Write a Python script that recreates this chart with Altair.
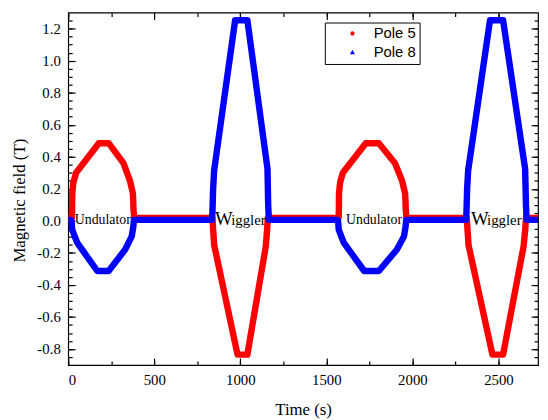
import altair as alt
import pandas as pd

# ---------------- data ----------------
series_names = ["Pole 5", "Pole 8"]
series_colors = ["#ff0000", "#0000ff"]
# legend glyphs (unit-square SVG paths, nudged right inside the legend entry)
series_shapes = ["M 9 0 A 1 1 0 1 1 7 0 A 1 1 0 1 1 9 0 Z",
                 "M 8 -1.1 L 9.2 1 L 6.8 1 Z"]

time_pole5 = [0, 21, 22.5, 23.5, 30, 46, 178, 235, 321, 359, 376, 380, 384,
              838, 842, 848, 984, 1041, 1148, 1156, 1160,
              1571, 1572.5, 1573.5, 1580, 1596, 1729, 1805, 1899, 1940, 1958, 1962, 1966,
              2316, 2320, 2326, 2465, 2527, 2646, 2656, 2660,
              2740]
field_pole5 = [0.018, 0.018, 0.06, 0.17, 0.24, 0.30, 0.485, 0.485, 0.36, 0.25, 0.17, 0.06, 0.018,
               0.018, -0.05, -0.15, -0.835, -0.835, -0.16, -0.05, 0.018,
               0.018, 0.06, 0.17, 0.24, 0.30, 0.485, 0.485, 0.36, 0.25, 0.17, 0.06, 0.018,
               0.018, -0.05, -0.15, -0.835, -0.835, -0.16, -0.05, 0.018,
               0.018]

time_pole8 = [0, 17, 20, 23, 34, 52, 169, 235, 331, 369, 378, 382,
              835, 838, 842, 848, 970, 1041, 1158, 1162, 1166,
              1566, 1569, 1572, 1583, 1601, 1720, 1805, 1910, 1951, 1960, 1964,
              2311, 2314, 2318, 2324, 2451, 2527, 2655, 2660, 2664,
              2740]
field_pole8 = [0.006, 0.006, -0.01, -0.055, -0.086, -0.136, -0.313, -0.313, -0.179, -0.097, -0.04, 0.006,
               0.006, 0.05, 0.2, 0.315, 1.253, 1.253, 0.325, 0.1, 0.006,
               0.006, -0.01, -0.055, -0.086, -0.136, -0.313, -0.313, -0.179, -0.097, -0.04, 0.006,
               0.006, 0.05, 0.2, 0.315, 1.253, 1.253, 0.325, 0.1, 0.006,
               0.006]

und_text = ["Undulator", "Undulator"]
und_time = [201, 1777]
und_field = [-0.0185, -0.0185]

w_text = ["W", "W"]
w_time = [905, 2392]
w_field = [-0.028, -0.028]

ig_text = ["iggler", "iggler"]
ig_time = [947, 2434]
ig_field = [-0.028, -0.028]

x_major = [0, 500, 1000, 1500, 2000, 2500]
x_minor = [0, 250, 500, 750, 1000, 1250, 1500, 1750, 2000, 2250, 2500]
y_major = [-0.8, -0.6, -0.4, -0.2, 0.0, 0.2, 0.4, 0.6, 0.8, 1.0, 1.2]
y_minor = [round(-0.85 + 0.05 * i, 2) for i in range(43)]

X_DOMAIN = [0, 2730]
Y_DOMAIN = [-0.9, 1.3]

# ---------------- tables ----------------
df = pd.concat([
    pd.DataFrame({"t": time_pole5, "b": field_pole5, "series": series_names[0]}),
    pd.DataFrame({"t": time_pole8, "b": field_pole8, "series": series_names[1]}),
], ignore_index=True)
df["idx"] = range(len(df))

und_df = pd.DataFrame({"t": und_time, "b": und_field, "txt": und_text})
w_df = pd.DataFrame({"t": w_time, "b": w_field, "txt": w_text})
ig_df = pd.DataFrame({"t": ig_time, "b": ig_field, "txt": ig_text})

SERIF = "Liberation Serif"
SANS = "Liberation Sans"

xs = alt.Scale(domain=X_DOMAIN, nice=False, zero=False)
ys = alt.Scale(domain=Y_DOMAIN, nice=False, zero=False)
cs = alt.Scale(domain=series_names, range=series_colors)
ss = alt.Scale(domain=series_names, range=series_shapes)


def axis(orient, values, size, **kw):
    base = dict(orient=orient, values=values, tickSize={"expr": str(-size)},
                domain=False, grid=False, tickColor="black", tickWidth=1.2,
                labels=False, title="")
    base.update(kw)
    return alt.Axis(**base)


x_bottom = axis("bottom", x_major, 7, labels=True, format="d",
                labelFont=SERIF, labelFontSize=15, labelColor="black", labelPadding=15,
                title="Time (s)", titleFont=SERIF, titleFontSize=17, titleFontWeight="normal",
                titleColor="black", titleY=50, titleBaseline="alphabetic")
y_left = axis("left", y_major, 7, labels=True,
              labelExpr="replace(format(datum.value, '.1f'), '\u2212', '-')",
              labelFont=SERIF, labelFontSize=15, labelColor="black", labelPadding=15,
              title="Magnetic field (T)", titleFont=SERIF, titleFontSize=17,
              titleFontWeight="normal", titleColor="black", titleX=-44, titleY=190,
              titleAngle=270, titleBaseline="alphabetic", titleAlign="center")

legend = alt.Legend(orient="none", legendX=260, legendY=10, title=None,
                    strokeColor="black", fillColor="white", padding=3.5,
                    labelFont=SANS, labelFontSize=15, labelColor="black",
                    symbolSize=18, labelOffset=31, rowPadding=3,
                    symbolStrokeWidth=0)

# legend only: the scale domains drive the entries
points = alt.Chart(df).mark_point(filled=True, size=18, opacity=1).encode(
    x=alt.X("t:Q", scale=xs, axis=axis("top", x_major, 7)),
    y=alt.Y("b:Q", scale=ys, axis=axis("right", y_major, 7)),
    color=alt.Color("series:N", scale=cs, legend=legend),
    shape=alt.Shape("series:N", scale=ss, legend=legend),
).transform_filter("datum.t < -1")

lines = alt.Chart(df).mark_line(strokeWidth=6.5, strokeJoin="round", clip=True).encode(
    x=alt.X("t:Q", scale=xs, axis=x_bottom),
    y=alt.Y("b:Q", scale=ys, axis=y_left),
    color=alt.Color("series:N", scale=cs, legend=None),
    order="idx:Q",
)

und = alt.Chart(und_df).mark_text(font=SERIF, fontSize=14, color="black",
                                  align="center", baseline="alphabetic").encode(
    x=alt.X("t:Q", scale=xs, axis=axis("bottom", x_minor, 4)),
    y=alt.Y("b:Q", scale=ys, axis=axis("left", y_minor, 4)),
    text="txt:N",
)

wl = alt.Chart(w_df).mark_text(font=SERIF, fontSize=19, color="black",
                               align="center", baseline="alphabetic").encode(
    x=alt.X("t:Q", scale=xs, axis=axis("top", x_minor, 4)),
    y=alt.Y("b:Q", scale=ys, axis=axis("right", y_minor, 4)),
    text="txt:N",
)

ig = alt.Chart(ig_df).mark_text(font=SERIF, fontSize=15, color="black",
                                align="left", baseline="alphabetic").encode(
    x=alt.X("t:Q", scale=xs, axis=None),
    y=alt.Y("b:Q", scale=ys, axis=None),
    text="txt:N",
)

chart = alt.layer(points, lines, und, wl, ig).resolve_axis(
    x="independent", y="independent"
).properties(
    width=476, height=357,
    padding={"left": 61, "top": 2, "right": 2, "bottom": 54},
    autosize=alt.AutoSizeParams(type="none"),
    background="white",
).configure_view(stroke="black", strokeWidth=1.2)

chart.save("out.html", embed_options={"renderer": "svg", "actions": False})
